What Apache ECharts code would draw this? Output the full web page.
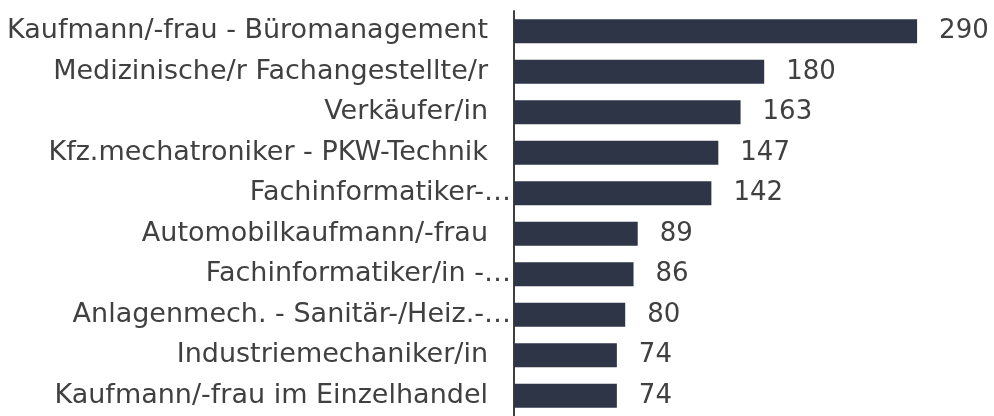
<!DOCTYPE html>
<html>
<head>
<meta charset="utf-8">
<script src="https://cdn.jsdelivr.net/npm/echarts@6/dist/echarts.min.js"></script>
<style>
  html, body { margin: 0; padding: 0; background: #fff; }
  #chart { width: 994px; height: 416px; }
</style>
</head>
<body>
<div id="chart"></div>
<script>
// Berufe (Ausbildung) und Anzahl
const categories = [
  'Kaufmann/-frau - Büromanagement',
  'Medizinische/r Fachangestellte/r',
  'Verkäufer/in',
  'Kfz.mechatroniker - PKW-Technik',
  'Fachinformatiker-…',
  'Automobilkaufmann/-frau',
  'Fachinformatiker/in -…',
  'Anlagenmech. - Sanitär-/Heiz.-…',
  'Industriemechaniker/in',
  'Kaufmann/-frau im Einzelhandel'
]
const values = [290, 180, 163, 147, 142, 89, 86, 80, 74, 74]

const textColor = '#404040'
const font = 'DejaVu Sans'

const chart = echarts.init(document.getElementById('chart'))

chart.setOption({
  backgroundColor: '#fff',
  animation: false,
  grid: {
    left: 514,
    right: 63,
    top: 11,
    height: 411
  },
  xAxis: {
    type: 'value',
    min: 0,
    max: 300,
    show: false,
    splitLine: { show: false }
  },
  yAxis: {
    type: 'category',
    data: categories,
    inverse: true,
    axisLine: { show: true, lineStyle: { color: textColor, width: 2 } },
    axisTick: { show: false },
    axisLabel: {
      margin: 3,
      color: textColor,
      fontSize: 27,
      fontFamily: font,
      // gekürzte Labels reichen näher an die Achse
      formatter: (value) => value.endsWith('…') ? value : '{n|' + value + '}',
      rich: {
        n: {
          color: textColor,
          fontSize: 27,
          fontFamily: font,
          padding: [0, 23, 0, 0]
        }
      }
    }
  },
  series: [{
    type: 'bar',
    data: values,
    barWidth: 24,
    itemStyle: { color: '#2e3547' },
    label: {
      show: true,
      position: 'right',
      distance: 22,
      color: textColor,
      fontSize: 26,
      fontFamily: font
    }
  }]
})
</script>
</body>
</html>
